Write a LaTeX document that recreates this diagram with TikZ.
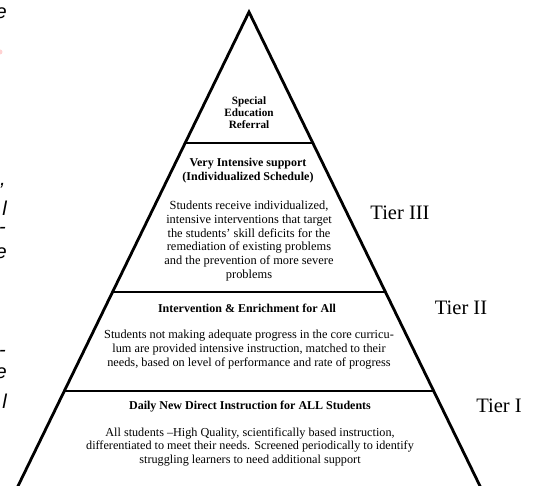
\documentclass[tikz,border=0pt]{standalone}
\usepackage{fontspec}
\setmainfont{Liberation Serif}
\newfontfamily\fragfont{Liberation Sans}
\usetikzlibrary{calc}
\begin{document}
\begin{tikzpicture}[x=1pt,y=-1pt,
  edge/.style={line width=2.8pt, line join=miter},
  band/.style={line width=2.9pt},
  head/.style={align=center, font=\fontsize{12}{13.8}\selectfont\bfseries, inner sep=0pt},
  body/.style={align=center, font=\fontsize{12}{13.8}\selectfont, inner sep=0pt},
  tier/.style={font=\fontsize{20.5}{24}\selectfont, inner sep=0pt},
  frag/.style={font=\fontsize{20}{22}\fragfont\itshape, inner sep=0pt, anchor=base east}]
\useasboundingbox (0,0) rectangle (539,486);
\clip (0,0) rectangle (539,486);
\coordinate (apex) at (249,12);
\coordinate (bl) at (11.2,500);
\coordinate (br) at (486.8,500);
\draw[edge] (bl) -- (apex) -- (br);
\foreach \n/\yy in {1/143,2/292,3/391}{
  \coordinate (l\n) at ($(apex)!{(\yy-12)/488}!(bl)$);
  \coordinate (r\n) at ($(apex)!{(\yy-12)/488}!(br)$);
  \draw[band] (l\n) -- (r\n);
}
\node[head, font=\fontsize{11.2}{12}\selectfont\bfseries] (special) at (249,113) {Special\\Education\\Referral};
\node[head] (t3head) at (248,171) {Very Intensive support\\(Individualized Schedule)};
\node[body, font=\fontsize{12.4}{13.7}\selectfont] (t3body) at (249,241) {Students receive individualized,\\intensive interventions that target\\the students’ skill deficits for the\\remediation of existing problems\\and the prevention of more severe\\problems};
\node[head] (t2head) at (247,308) {Intervention \& Enrichment for All};
\node[body, font=\fontsize{12.3}{14}\selectfont] (t2body) at (249,350) {Students not making adequate progress in the core curricu-\\lum are provided intensive instruction, matched to their\\needs, based on level of performance and rate of progress};
\node[head] (t1head) at (250,407) {Daily New Direct Instruction for ALL Students};
\node[body, font=\fontsize{12.2}{13.9}\selectfont] (t1body) at (250,447) {All students –High Quality, scientifically based instruction,\\differentiated to meet their needs. Screened periodically to identify\\struggling learners to need additional support};
\node[tier] (tier3) at (400,213) {Tier III};
\node[tier] (tier2) at (461,308) {Tier II};
\node[tier] (tier1) at (499,406) {Tier I};
% cut-off fragments of a neighbouring text column at the left edge
\node[frag] (f1) at (7,19) {e};
\fill[pink!70] (0,52) circle (2.5);
\node[frag] (f2) at (6,186) {,};
\node[frag] (f3) at (7,216) {l};
\node[frag] (f4) at (6,234) {-};
\node[frag] (f5) at (7,259) {e};
\node[frag] (f6) at (6,357) {-};
\node[frag] (f7) at (7,379) {e};
\node[frag] (f8) at (7,409) {l};
\end{tikzpicture}
\end{document}
